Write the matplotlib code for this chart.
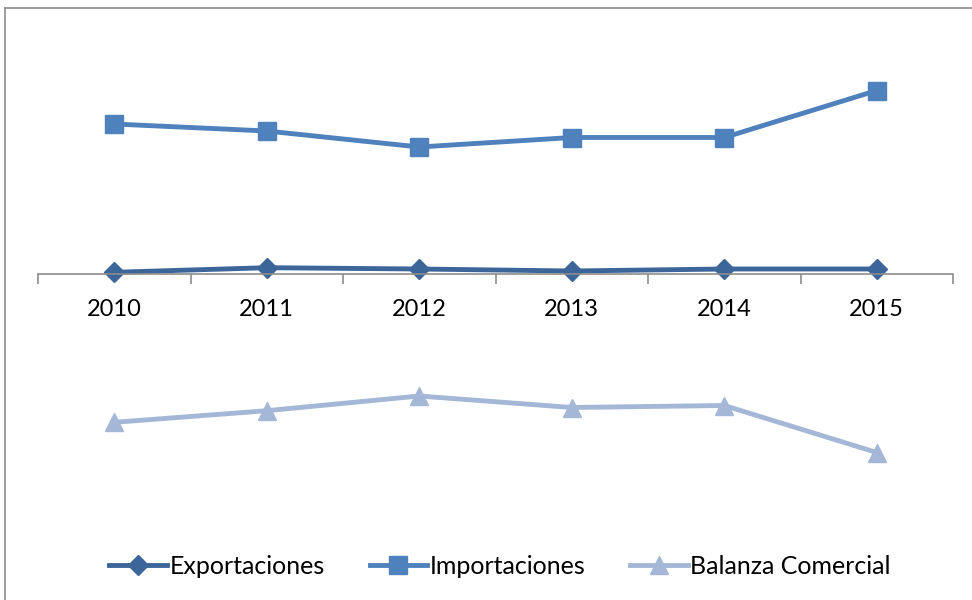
import numpy as np
import matplotlib.pyplot as plt
from matplotlib.lines import Line2D

# datos (unidades arbitrarias)
anios = ['2010', '2011', '2012', '2013', '2014', '2015']
exportaciones = [17, 63, 50, 30, 50, 50]
importaciones = [1500, 1430, 1270, 1365, 1365, 1835]
balanza = [-1483, -1367, -1220, -1335, -1315, -1785]

plt.rcParams['font.family'] = ['Lato', 'DejaVu Sans']

W, H = 972, 600
fig = plt.figure(figsize=(W/100, H/100), dpi=100)

# marco exterior gris
fig.add_artist(Line2D([5/W, 1.0], [1-8/H, 1-8/H], transform=fig.transFigure, color='#8c8c8c', lw=1.2))
fig.add_artist(Line2D([5/W, 5/W], [0.0, 1-8/H], transform=fig.transFigure, color='#8c8c8c', lw=1.2))

top_px, bot_px, zero_px = 30, 520, 274
ax = fig.add_axes([38/W, 1-bot_px/H, (953-38)/W, (bot_px-top_px)/H])
ax.set_ylim(-(bot_px-zero_px)*10, (zero_px-top_px)*10)
x = np.arange(len(anios))
ax.set_xlim(-0.5, len(anios)-0.5)

ax.plot(x, exportaciones, color='#3c6699', lw=3.5, marker='D', markersize=10, label='Exportaciones')
ax.plot(x, importaciones, color='#4f81bd', lw=3.5, marker='s', markersize=13, label='Importaciones')
ax.plot(x, balanza, color='#a5b7d7', lw=3.5, marker='^', markersize=13, label='Balanza Comercial')

for s in ['top', 'left', 'right']:
    ax.spines[s].set_visible(False)
ax.spines['bottom'].set_position(('data', 0))
ax.spines['bottom'].set_color('#8c8c8c')
ax.spines['bottom'].set_linewidth(1.2)
ax.set_yticks([])
ax.set_xticks(np.arange(-0.5, len(anios), 1.0))
ax.set_xticklabels([])
ax.tick_params(axis='x', which='major', length=7, width=1.2, color='#8c8c8c', direction='out')
ax.set_xticks(x, minor=True)
ax.set_xticklabels(anios, minor=True, fontsize=17)
ax.tick_params(axis='x', which='minor', length=0, pad=18)

fig.legend(loc='center', bbox_to_anchor=(500/W, 1-566/H), ncol=3, frameon=False,
           fontsize=18, handlelength=2.3, columnspacing=1.8, handletextpad=0.1)

plt.savefig('out.png', dpi=100)
